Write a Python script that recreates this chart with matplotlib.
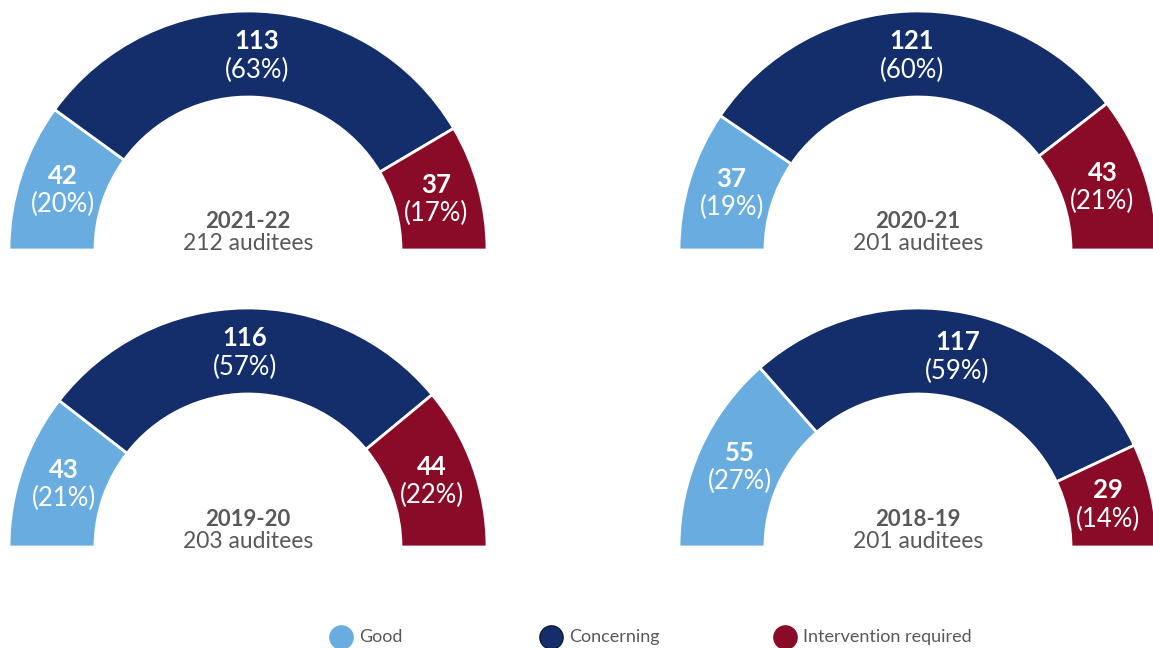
import numpy as np
import matplotlib
matplotlib.use("Agg")
import matplotlib.pyplot as plt

# ---- data ----
years = ["2021-22", "2020-21", "2019-20", "2018-19"]
auditees = [212, 201, 203, 201]
categories = ["Good", "Concerning", "Intervention required"]
good_counts = [42, 37, 43, 55]
concerning_counts = [113, 121, 116, 117]
intervention_counts = [37, 43, 44, 29]
good_pct = [20, 19, 21, 27]
concerning_pct = [63, 60, 57, 59]
intervention_pct = [17, 21, 22, 14]

colors = ["#69ADE0", "#132E6B", "#8A0B28"]
grey = "#595959"
plt.rcParams['font.family'] = ['Lato', 'DejaVu Sans']

W, H = 1153, 648
fig = plt.figure(figsize=(W / 100, H / 100), dpi=100)
ax = fig.add_axes([0, 0, 1, 1])

R_OUT, R_IN = 239, 153
centers = [(248, 250), (918, 250), (248, 547), (918, 547)]  # pixel coords (x, y from top)

for i, (cx, cy_pix) in enumerate(centers):
    cy = H - cy_pix
    pcts = [good_pct[i], concerning_pct[i], intervention_pct[i]]
    cnts = [good_counts[i], concerning_counts[i], intervention_counts[i]]
    vals = pcts + [sum(pcts)]
    wedges, _ = ax.pie(vals, center=(cx, cy), radius=R_OUT, startangle=180,
                       counterclock=False, colors=colors + ["none"],
                       wedgeprops=dict(width=R_OUT - R_IN, edgecolor="white",
                                       linewidth=2.0), frame=True)
    wedges[-1].set_edgecolor("none")
    total = sum(vals)
    cum = 0
    r_lab = (R_OUT + R_IN) / 2 - 1
    for v, c in zip(pcts, cnts):
        mid = 180 - (cum + v / 2) / total * 360
        cum += v
        lx = cx + r_lab * np.cos(np.radians(mid))
        ly = cy + r_lab * np.sin(np.radians(mid))
        ax.text(lx, ly + 14, f"{c}", color="white", fontsize=18.5, fontweight="bold",
                ha="center", va="center")
        ax.text(lx, ly - 15, f"({v}%)", color="white", fontsize=18.5,
                ha="center", va="center")
    ax.text(cx, cy + 28, years[i], color=grey, fontsize=16, fontweight="bold",
            ha="center", va="center")
    ax.text(cx, cy + 6, f"{auditees[i]} auditees", color=grey, fontsize=16.5,
            ha="center", va="center")

# legend
leg_x = [341, 551, 785]
leg_y = H - 637
for x, lab, col in zip(leg_x, categories, colors):
    ax.scatter([x], [leg_y], s=280, color=col,
               edgecolors="#0A1A3A" if lab == "Concerning" else col,
               linewidths=1.0, zorder=3)
    ax.text(x + 18, leg_y, lab, color=grey, fontsize=13, ha="left", va="center")

ax.set_xlim(0, W)
ax.set_ylim(0, H)
ax.set_aspect("auto")
ax.axis("off")
fig.savefig("out.png", dpi=100)
